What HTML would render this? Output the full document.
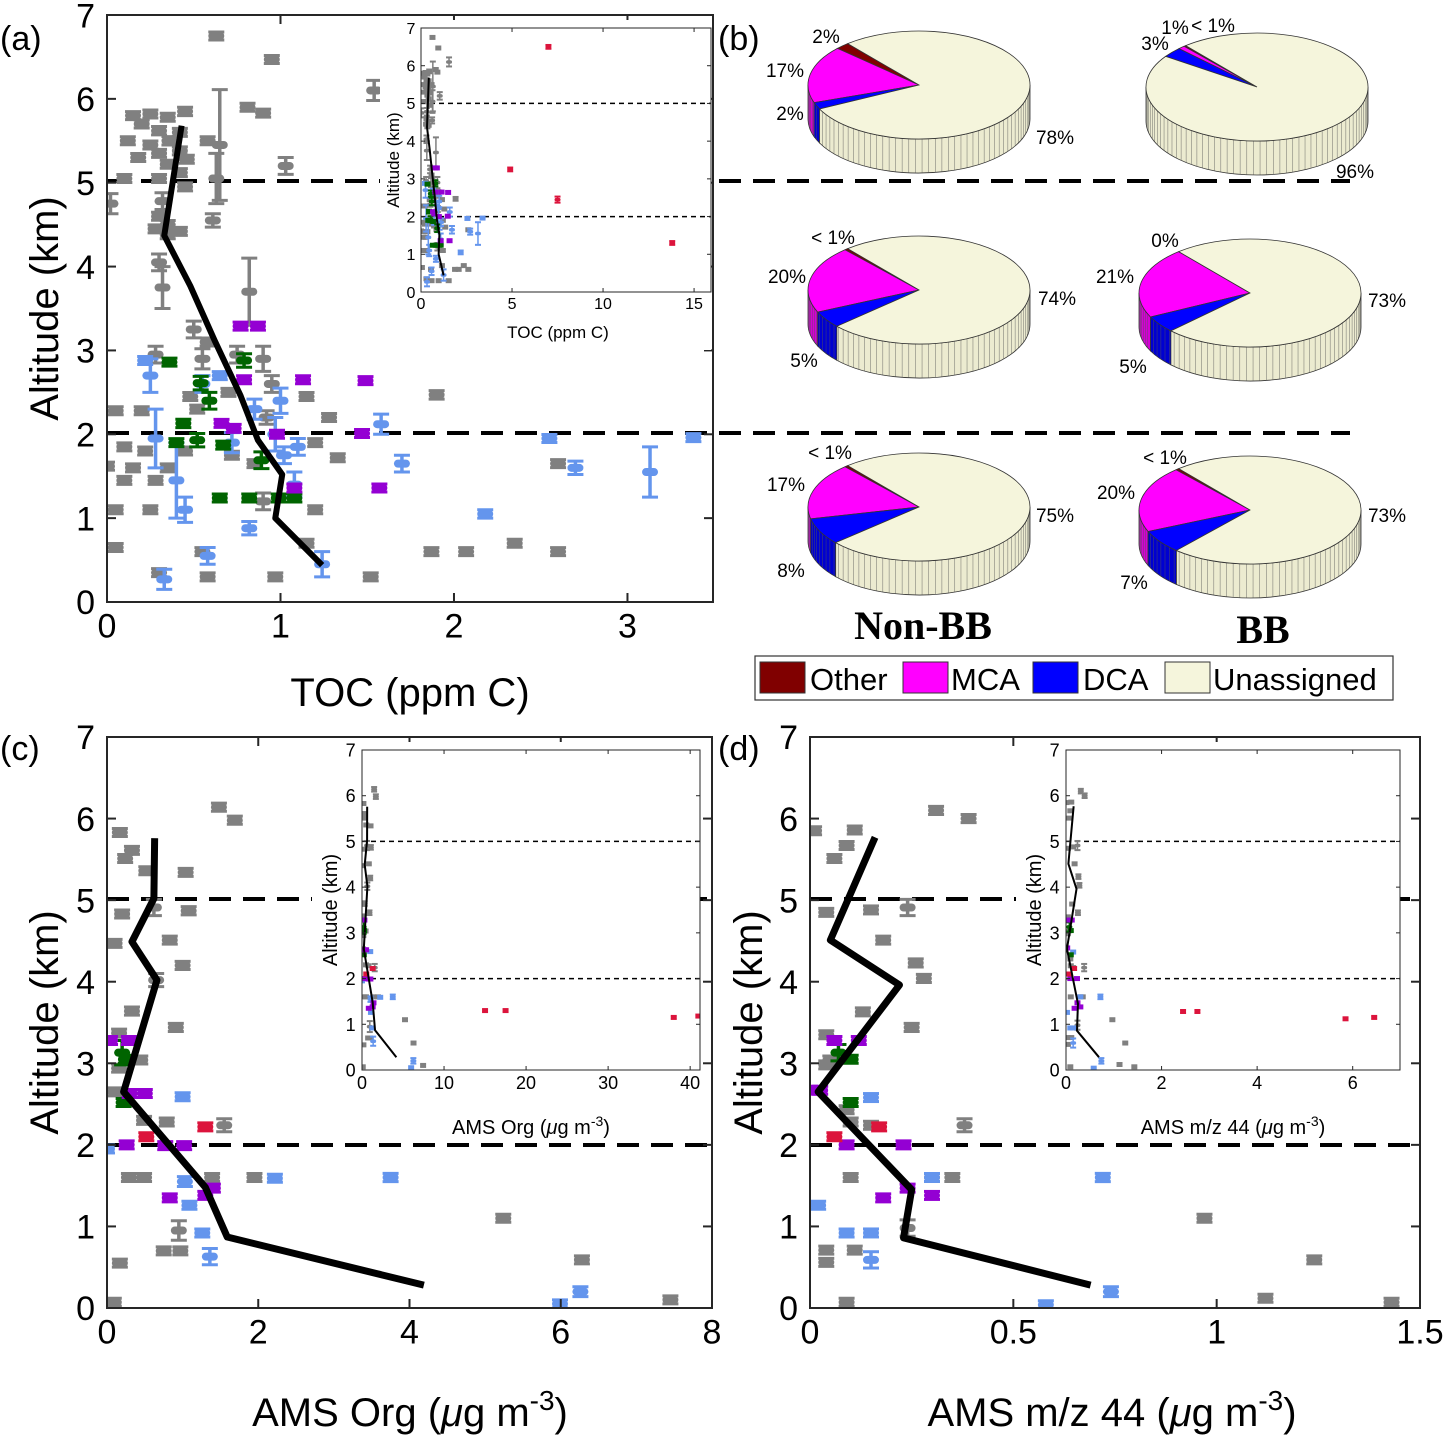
<!DOCTYPE html>
<html><head><meta charset="utf-8">
<style>
html,body{margin:0;padding:0;background:#fff;}
svg{display:block;font-family:"Liberation Sans",sans-serif;}
</style></head>
<body>
<svg id="fig" width="1443" height="1437" viewBox="0 0 1443 1437" xmlns="http://www.w3.org/2000/svg">
<rect x="0" y="0" width="1443" height="1437" fill="#fff"/>
</svg>
<script>
// ---------- data: panel (a) TOC [x, altitude, yerr] ----------
const aGray = [[0.02,4.75,0.12],[0.15,5.8,0],[0.25,5.82,0],[0.35,5.78,0],[0.45,5.85,0.05],[0.2,5.7,0],[0.3,5.62,0.05],[0.42,5.6,0],[0.12,5.5,0],[0.25,5.45,0],[0.36,5.5,0.05],[0.42,5.38,0],[0.3,5.35,0],[0.18,5.3,0],[0.46,5.28,0],[0.35,5.22,0],[0.1,5.05,0],[0.3,5.05,0],[0.42,5.12,0],[0.45,4.95,0],[0.32,4.78,0.1],[0.3,4.6,0],[0.35,4.5,0.05],[0.28,4.45,0],[0.35,4.38,0],[0.42,4.42,0],[0.65,5.45,0.66],[0.58,5.5,0],[0.63,5.05,0.3],[0.61,4.55,0.08],[0.81,5.9,0],[0.9,5.83,0],[0.63,6.75,0],[0.95,6.47,0],[1.54,6.1,0.12],[1.03,5.2,0.1],[0.32,3.75,0.25],[0.3,4.05,0.1],[0.82,3.7,0.4],[0.5,3.25,0.1],[0.58,3.1,0],[0.28,2.95,0.1],[0.55,2.9,0.12],[0.75,2.95,0.1],[0.9,2.9,0.15],[0.95,2.6,0.1],[0.7,2.5,0],[0.48,2.45,0],[1.15,2.45,0],[0.05,2.28,0],[0.2,2.28,0],[0.52,2.3,0],[0.92,2.2,0.08],[1.28,2.2,0],[1.9,2.47,0.05],[0.1,1.85,0],[0.22,1.8,0],[0.45,1.8,0],[0.72,1.75,0],[1.2,1.9,0],[1.33,1.72,0],[0.0,1.62,0],[0.15,1.6,0],[0.35,1.6,0],[0.1,1.45,0],[0.28,1.45,0],[0.85,1.65,0],[0.05,1.1,0],[0.25,1.1,0],[1.2,1.1,0],[0.9,1.2,0.1],[0.05,0.65,0],[0.55,0.6,0],[1.15,0.7,0],[0.3,0.35,0],[0.58,0.3,0],[0.97,0.3,0],[1.52,0.3,0],[1.87,0.6,0],[2.07,0.6,0],[2.35,0.7,0],[2.6,0.6,0],[2.6,1.65,0]];
const aBlue = [[0.22,2.88,0],[0.25,2.7,0.2],[0.28,1.95,0.35],[0.4,1.45,0.45],[0.45,1.1,0.15],[0.58,0.55,0.1],[0.33,0.27,0.12],[0.82,0.88,0.08],[1.24,0.45,0.15],[0.65,2.7,0],[0.72,1.9,0.12],[0.85,2.3,0.12],[0.97,2.0,0.2],[1.0,2.4,0.15],[1.08,1.4,0.15],[1.02,1.75,0.1],[1.1,1.85,0.1],[1.58,2.12,0.12],[1.7,1.65,0.1],[2.18,1.05,0.05],[2.55,1.95,0],[2.7,1.6,0.08],[3.13,1.55,0.3],[3.38,1.96,0],[0.55,2.6,0.1]];
const aGreen = [[0.36,2.86,0],[0.79,2.88,0.08],[0.54,2.61,0.08],[0.59,2.4,0.1],[0.44,2.13,0.05],[0.52,1.93,0.08],[0.67,1.87,0],[0.4,1.9,0],[0.89,1.69,0.1],[0.65,1.24,0],[0.82,1.24,0],[1.08,1.24,0],[0.99,1.24,0]];
const aPurple = [[0.77,3.29,0],[0.87,3.29,0],[0.79,2.65,0],[1.13,2.65,0],[1.49,2.64,0],[0.66,2.13,0],[0.73,2.07,0],[0.98,2.0,0],[1.47,2.01,0],[1.08,1.36,0],[1.57,1.36,0]];
const aRed = [[7.0,6.5,0.05],[4.9,3.25,0.05],[7.5,2.45,0.08],[13.8,1.3,0.05]];
const aLine = [[0.43,5.68],[0.33,4.37],[0.48,3.77],[0.62,3.12],[0.77,2.46],[0.87,1.93],[1.01,1.52],[0.97,1.0],[1.24,0.44]];
// ---------- data: panel (c) AMS Org ----------
const cGray = [[0.17,5.83,0],[0.33,5.61,0],[0.24,5.51,0],[0.52,5.36,0],[1.04,5.34,0],[1.48,6.14,0.05],[1.69,5.98,0.05],[0.62,4.91,0.1],[1.08,4.87,0.05],[0.2,4.83,0],[0.1,4.47,0],[0.83,4.51,0],[1.0,4.2,0.05],[0.65,4.02,0.08],[0.33,3.64,0.05],[0.91,3.44,0.05],[0.16,3.37,0],[0.44,3.04,0],[0.16,2.94,0],[0.11,2.65,0],[0.49,2.3,0],[0.79,2.28,0],[1.55,2.24,0.08],[0.29,1.6,0],[0.49,1.6,0],[1.39,1.6,0],[0.95,0.95,0.12],[0.75,0.7,0],[0.97,0.7,0],[0.17,0.55,0],[0.09,0.07,0],[5.24,1.1,0],[6.28,0.59,0],[7.45,0.1,0],[1.95,1.6,0]];
const cBlue = [[0.0,1.95,0],[1.0,2.59,0],[1.03,1.55,0.06],[2.22,1.59,0],[1.09,1.26,0],[1.26,0.92,0],[1.36,0.63,0.1],[3.75,1.6,0.05],[5.99,0.05,0],[6.26,0.2,0.06]];
const cGreen = [[0.2,3.13,0.15],[0.22,2.52,0],[0.25,3.05,0]];
const cPurple = [[0.04,3.28,0],[0.29,3.28,0],[0.3,2.63,0],[0.5,2.63,0],[0.26,2.0,0],[0.77,1.99,0],[1.02,1.99,0],[0.83,1.35,0],[1.3,1.38,0],[1.4,1.47,0]];
const cRed = [[0.52,2.1,0],[1.3,2.22,0],[15.0,1.3,0],[17.5,1.3,0],[38.0,1.15,0],[41.0,1.18,0]];
const cLine = [[0.63,5.76],[0.62,5.02],[0.33,4.49],[0.66,4.02],[0.22,2.65],[1.3,1.48],[1.59,0.87],[4.19,0.28]];
// ---------- data: panel (d) AMS m/z 44 ----------
const dGray = [[0.01,5.85,0],[0.09,5.67,0],[0.06,5.51,0],[0.11,5.86,0],[0.04,4.85,0],[0.15,4.88,0],[0.24,4.91,0.1],[0.18,4.51,0],[0.26,4.23,0.05],[0.28,4.04,0.05],[0.31,6.1,0.05],[0.39,6.0,0.05],[0.13,3.63,0],[0.25,3.44,0.05],[0.04,3.35,0],[0.05,3.04,0],[0.04,2.98,0],[0.09,2.43,0],[0.1,2.28,0],[0.15,2.24,0],[0.38,2.24,0.08],[0.1,1.6,0],[0.3,1.6,0],[0.35,1.6,0],[0.24,0.98,0.1],[0.04,0.71,0],[0.11,0.71,0],[0.04,0.56,0],[0.09,0.07,0],[0.97,1.1,0],[1.24,0.59,0],[1.12,0.12,0],[1.43,0.07,0]];
const dBlue = [[0.02,1.26,0],[0.15,2.58,0],[0.3,1.6,0],[0.09,0.92,0],[0.15,0.92,0],[0.15,0.59,0.1],[0.72,1.6,0.05],[0.74,0.2,0.06],[0.58,0.04,0]];
const dGreen = [[0.07,3.13,0.1],[0.1,3.05,0],[0.1,2.52,0]];
const dPurple = [[0.0,2.67,0],[0.025,2.67,0],[0.06,3.28,0],[0.12,3.28,0],[0.09,2.0,0],[0.23,2.0,0],[0.18,1.35,0],[0.3,1.38,0],[0.24,1.47,0]];
const dRed = [[0.06,2.1,0],[0.17,2.22,0],[2.45,1.28,0],[2.75,1.28,0],[5.85,1.12,0],[6.45,1.15,0]];
const dLine = [[0.16,5.77],[0.05,4.51],[0.22,3.96],[0.02,2.65],[0.25,1.45],[0.23,0.86],[0.69,0.28]];
// ---------- data: panel (b) pies: Other, MCA, DCA, Unassigned (%) ----------
const pieCategories = ["Other","MCA","DCA","Unassigned"];
const pieNonBB1 = [2,17,2,78];
const pieBB1 = [0.3,1,3,96];
const pieNonBB2 = [0.5,20,5,74];
const pieBB2 = [0,21,5,73];
const pieNonBB3 = [0.5,17,8,75];
const pieBB3 = [0.5,20,7,73];
const altTicks = [0,1,2,3,4,5,6,7];
const aTicks = [0,1,2,3];
const aInsetTicks = [0,5,10,15];
const cTicks = [0,2,4,6,8];
const cInsetTicks = [0,10,20,30,40];
const dTicks = [0,0.5,1,1.5];
const dInsetTicks = [0,2,4,6];

const NS="http://www.w3.org/2000/svg";
const svg=document.getElementById('fig');
function el(tag,attrs,parent){const e=document.createElementNS(NS,tag);for(const k in attrs)e.setAttribute(k,attrs[k]);(parent||svg).appendChild(e);return e;}
function txt(s,x,y,size,anchor,parent,extra){const t=el('text',Object.assign({x:x,y:y,'font-size':size,'text-anchor':anchor||'middle',fill:'#000'},extra||{}),parent);t.textContent=s;return t;}
const COL={gray:'#808080',blue:'#6495ED',green:'#006400',purple:'#9400D3',red:'#DC143C'};

function scale(p0,p1,v0,v1){return v=>p0+(v-v0)*(p1-p0)/(v1-v0);}

function plotPanel(o){
  const g=el('g',{});
  
  
  const X=scale(o.x0,o.x1,o.xmin,o.xmax), Y=scale(o.y0,o.y1,0,7);
  if(o.inset){el('rect',{x:o.bgx,y:o.y1-8,width:o.x1-o.bgx,height:o.bgh,fill:'#fff'},g);}
  const cid='clip'+o.name;
  const cp=el('clipPath',{id:cid},g);el('rect',{x:o.x0,y:o.y1,width:o.x1-o.x0,height:o.y0-o.y1},cp);
  if(o.inset){[5,2].forEach(a=>{const l=el('line',{x1:o.x0,x2:o.x1,y1:Y(a),y2:Y(a),stroke:'#000','stroke-width':1.5,'stroke-dasharray':'5,4'},g);
    
    });}
  const mg=el('g',{'clip-path':'url(#'+cid+')'},g);
  const w=o.inset?6:16,h=o.inset?3.5:8,cap=o.inset?2:3;
  o.series.forEach(s=>{
    const sg=el('g',{},mg);
    
    
    s.d.forEach(p=>{
      const px=X(p[0]),py=Y(p[1]);
      const m=el('g',{},sg);
      
      
      const ep=Math.max(Math.abs(Y(p[1]+p[2])-py),o.inset?1.5:4);
      el('line',{x1:px,x2:px,y1:py-ep,y2:py+ep,stroke:s.c,'stroke-width':o.inset?1.5:3.5},m);
      el('line',{x1:px-w/2,x2:px+w/2,y1:py-ep,y2:py-ep,stroke:s.c,'stroke-width':cap},m);
      el('line',{x1:px-w/2,x2:px+w/2,y1:py+ep,y2:py+ep,stroke:s.c,'stroke-width':cap},m);
      el('rect',{x:px-w/2,y:py-h/2,width:w,height:h,rx:h/2,fill:s.c},m);
    });
  });
  const ln=el('polyline',{points:o.line.map(p=>X(p[0])+','+Y(p[1])).join(' '),fill:'none',stroke:'#000','stroke-width':o.inset?2:o.lw,'stroke-linejoin':'round'},mg);
  
  
  const fr=el('rect',{x:o.x0,y:o.y1,width:o.x1-o.x0,height:o.y0-o.y1,fill:'none',stroke:'#262626','stroke-width':o.inset?1:2},g);
  
  
  const tl=o.inset?4:9, fs=o.fs;
  o.xticks.forEach(v=>{const x=X(v);
    el('line',{x1:x,x2:x,y1:o.y0,y2:o.y0-tl,stroke:'#262626','stroke-width':o.inset?1:2},g);
    el('line',{x1:x,x2:x,y1:o.y1,y2:o.y1+tl,stroke:'#262626','stroke-width':o.inset?1:2},g);
    const t=txt(String(v),x,o.y0+fs*1.05,fs,'middle',g);
    
    });
  altTicks.forEach(v=>{const y=Y(v);
    el('line',{x1:o.x0,x2:o.x0+tl,y1:y,y2:y,stroke:'#262626','stroke-width':o.inset?1:2},g);
    el('line',{x1:o.x1,x2:o.x1-tl,y1:y,y2:y,stroke:'#262626','stroke-width':o.inset?1:2},g);
    const t=txt(String(v),o.x0-fs*0.35,y+fs*0.36,fs,'end',g);
    
    });
  const yt=txt('Altitude (km)',0,0,o.tfs,'middle',g,{transform:'translate('+o.ytx+','+((o.y0+o.y1)/2+o.ytdy)+') rotate(-90)'});
  
  
  const xt=el('text',{x:o.xtx,y:o.xty,'font-size':o.tfs,'text-anchor':'middle',fill:'#000'},g);
  
  
  if(o.xt==='TOC'){xt.textContent='TOC (ppm C)';}
  else{
    const pre=o.xt==='org'?'AMS Org (':'AMS m/z 44 (';
    const a=el('tspan',{},xt);a.textContent=pre;
    const b=el('tspan',{'font-style':'italic'},xt);b.textContent='\u03bc';
    const c=el('tspan',{},xt);c.textContent='g m';
    const d=el('tspan',{dy:-o.tfs*0.4,'font-size':o.tfs*0.7},xt);d.textContent='-3';
    const e=el('tspan',{dy:o.tfs*0.4},xt);e.textContent=')';
  }
  return {X,Y};
}

function dashLine(x1,x2,y,name){const l=el('line',{x1:x1,x2:x2,y1:y,y2:y,stroke:'#000','stroke-width':4,'stroke-dasharray':'22,12'});
  
  }

dashLine(107,1350,181,'ref-line-5km');
dashLine(107,1350,433,'ref-line-2km');
dashLine(107,712,899,'c-ref-line-5km');
dashLine(107,712,1145,'c-ref-line-2km');
dashLine(810,1420,899,'d-ref-line-5km');
dashLine(810,1420,1145,'d-ref-line-2km');

function series(g,b,gr,p,r){return [{n:'gray',c:COL.gray,d:g},{n:'blue',c:COL.blue,d:b},{n:'green',c:COL.green,d:gr},{n:'purple',c:COL.purple,d:p},{n:'red',c:COL.red,d:r}];}

plotPanel({name:'panel-a',inset:false,x0:107,x1:713,y0:602,y1:15,xmin:0,xmax:3.493,xticks:aTicks,fs:34,tfs:40,lw:6,
  series:series(aGray,aBlue,aGreen,aPurple,aRed),line:aLine,ytx:58,ytdy:0,xtx:410,xty:706,xt:'TOC'});
plotPanel({name:'panel-a-inset',inset:true,bgx:380,bgh:330,x0:421,x1:711,y0:292,y1:28,xmin:0,xmax:15.93,xticks:aInsetTicks,fs:16,tfs:17,
  series:series(aGray,aBlue,aGreen,aPurple,aRed),line:aLine,ytx:399,ytdy:0,xtx:558,xty:338,xt:'TOC'});
(function(){const l=el('line',{x1:713,x2:713,y1:15,y2:602,stroke:'#262626','stroke-width':2});
  
  })();
plotPanel({name:'panel-c',x0:107,x1:712,y0:1308,y1:737,xmin:0,xmax:8,xticks:cTicks,fs:34,tfs:40,lw:7,
  series:series(cGray,cBlue,cGreen,cPurple,cRed),line:cLine,ytx:58,ytdy:0,xtx:410,xty:1426,xt:'org'});
plotPanel({name:'panel-c-inset',inset:true,bgx:312,bgh:400,x0:362,x1:700,y0:1070,y1:750,xmin:0,xmax:41.2,xticks:cInsetTicks,fs:18,tfs:20,
  series:series(cGray,cBlue,cGreen,cPurple,cRed),line:cLine,ytx:337,ytdy:0,xtx:531,xty:1134,xt:'org'});
plotPanel({name:'panel-d',x0:810,x1:1420,y0:1308,y1:737,xmin:0,xmax:1.5,xticks:dTicks,fs:34,tfs:40,lw:7,
  series:series(dGray,dBlue,dGreen,dPurple,dRed),line:dLine,ytx:762,ytdy:0,xtx:1112,xty:1426,xt:'m44'});
plotPanel({name:'panel-d-inset',inset:true,bgx:1016,bgh:400,x0:1066,x1:1400,y0:1070,y1:750,xmin:0,xmax:6.99,xticks:dInsetTicks,fs:18,tfs:20,
  series:series(dGray,dBlue,dGreen,dPurple,dRed),line:dLine,ytx:1041,ytdy:0,xtx:1233,xty:1134,xt:'m44'});

[['(a)',0,50],['(b)',718,50],['(c)',0,760],['(d)',718,760]].forEach(p=>{const t=txt(p[0],p[1],p[2],34,'start');
  
  });

// ---------- pies ----------
const PCOL=['#800000','#FF00FF','#0000FF','#F5F5DC'];
const PSIDE=['#6a0000','#d600d6','#0000d0','#ecebd0'];
function pie(cx,cy,vals,name){
  const rx=111,ry=54,dep=34;
  const g=el('g',{});
  
  
  const tot=vals.reduce((a,b)=>a+b,0);
  const P=(t,dd)=>[cx+rx*Math.cos(t),cy-ry*Math.sin(t)+(dd||0)];
  let a=130*Math.PI/180;
  const sl=vals.map(v=>{const a0=a;a+=v/tot*2*Math.PI;return [a0,a];});
  sl.forEach((s,i)=>{
    [[Math.PI,2*Math.PI],[3*Math.PI,4*Math.PI]].forEach(r=>{
      const s0=Math.max(s[0],r[0]),s1=Math.min(s[1],r[1]);
      if(s1<=s0)return;
      const p0=P(s0),p1=P(s1),q1=P(s1,dep),q0=P(s0,dep);
      const pth=el('path',{d:`M${p0} A${rx},${ry} 0 0 0 ${p1} L${q1} A${rx},${ry} 0 0 1 ${q0} Z`,fill:PSIDE[i],stroke:'#333','stroke-width':0.8},g);
      
      
      for(let t=Math.ceil(s0/0.06)*0.06;t<s1;t+=0.06){const u=P(t),w=P(t,dep);
        el('line',{x1:u[0],y1:u[1],x2:w[0],y2:w[1],stroke:'#555','stroke-width':0.6,'stroke-opacity':0.7},g);}
    });
  });
  sl.forEach((s,i)=>{
    if(s[1]-s[0]<1e-6)return;
    const p0=P(s[0]),p1=P(s[1]);const large=(s[1]-s[0])>Math.PI?1:0;
    const pth=el('path',{d:`M${cx},${cy} L${p0} A${rx},${ry} 0 ${large} 0 ${p1} Z`,fill:PCOL[i],stroke:'#333','stroke-width':0.8},g);
    
    
  });
}
pie(919,85,pieNonBB1,'pie-nonbb-high');
pie(1257,87,pieBB1,'pie-bb-high');
pie(919,290,pieNonBB2,'pie-nonbb-mid');
pie(1250,293,pieBB2,'pie-bb-mid');
pie(919,507,pieNonBB3,'pie-nonbb-low');
pie(1250,510,pieBB3,'pie-bb-low');
[['2%',826,36],['17%',785,70],['2%',790,113],['78%',1055,137],
 ['1%',1175,27],['< 1%',1213,25],['3%',1155,43],['96%',1355,171],
 ['< 1%',833,237],['20%',787,276],['5%',804,360],['74%',1057,298],
 ['0%',1165,240],['21%',1115,276],['5%',1133,366],['73%',1387,300],
 ['< 1%',830,452],['17%',786,484],['8%',791,570],['75%',1055,515],
 ['< 1%',1165,457],['20%',1116,492],['7%',1134,582],['73%',1387,515]].forEach(p=>{
  const t=txt(p[0],p[1],p[2]+7,19,'middle');
  
  });
[['Non-BB',923,639],['BB',1263,643]].forEach(p=>{const t=txt(p[0],p[1],p[2],40,'middle',svg,{'font-family':'"Liberation Serif",serif','font-weight':'bold'});
  
  });
const lg=el('g',{});


el('rect',{x:755,y:656,width:638,height:44,fill:'#fff',stroke:'#333','stroke-width':1.2},lg);
[[760,810],[903,951],[1033,1083],[1165,1213]].forEach((p,i)=>{
  const e=el('g',{},lg);
  
  
  el('rect',{x:p[0],y:662,width:45,height:31,fill:PCOL[i],stroke:'#333','stroke-width':1},e);
  txt(pieCategories[i],p[1],690,31,'start',e);
});
</script>
</body></html>
